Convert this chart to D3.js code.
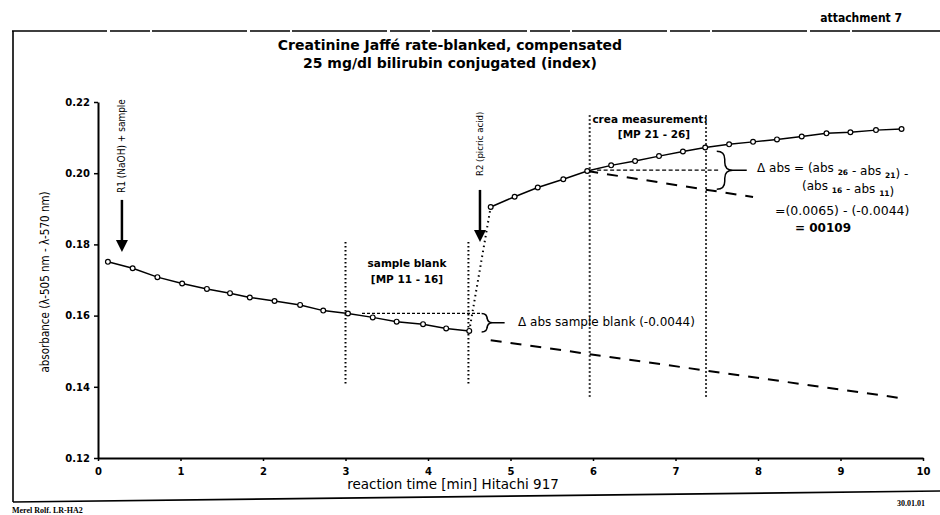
<!DOCTYPE html>
<html>
<head>
<meta charset="utf-8">
<script src="https://cdn.jsdelivr.net/npm/d3@7"></script>
<style>
  body { margin: 0; background: #fff; }
  svg { display: block; }
  text { font-family: "DejaVu Sans", sans-serif; fill: #000; }
</style>
</head>
<body>
<svg id="chart"></svg>
<script>
// measuring points MP1..MP16 (R1 + sample, before R2)
const time1 = [0.12, 0.42, 0.72, 1.02, 1.32, 1.60, 1.84, 2.14, 2.45, 2.73, 3.03, 3.33, 3.62, 3.94, 4.22, 4.50];
const abs1  = [0.1751, 0.1733, 0.1708, 0.1690, 0.1675, 0.1663, 0.1651, 0.1641, 0.1630, 0.1614, 0.1606, 0.1595, 0.1583, 0.1576, 0.1564, 0.1557];
// measuring points MP17..MP34 (after R2)
const time2 = [4.76, 5.05, 5.33, 5.64, 5.93, 6.22, 6.51, 6.80, 7.09, 7.36, 7.65, 7.94, 8.23, 8.53, 8.83, 9.12, 9.43, 9.74];
const abs2  = [0.1905, 0.1934, 0.1960, 0.1983, 0.2006, 0.2022, 0.2034, 0.2048, 0.2061, 0.2072, 0.2081, 0.2088, 0.2095, 0.2103, 0.2112, 0.2115, 0.2121, 0.2124];
// extrapolated blank lines
const blankExtTime = [4.76, 9.74], blankExtAbs = [0.1531, 0.1368];
const creaExtTime  = [5.93, 7.94], creaExtAbs  = [0.2006, 0.1933];
// measurement windows (vertical dotted lines)
const blankWinTime = [3.0, 4.49], blankWinAbs = [0.1807, 0.1408];
const creaWinTime  = [5.96, 7.37], creaWinAbs  = [0.2163, 0.1368];
const xTicks = [0, 1, 2, 3, 4, 5, 6, 7, 8, 9, 10];
const yTicks = [0.12, 0.14, 0.16, 0.18, 0.20, 0.22];

let width = 940, height = 515,
    x = d3.scaleLinear().domain([0, 10]).range([98, 923]),
    y = d3.scaleLinear().domain([0.12, 0.22]).range([458, 102]),
    svg = d3.select("#chart").attr("width", width).attr("height", height);

let pts1 = time1.map((t, i) => [t, abs1[i]]),
    pts2 = time2.map((t, i) => [t, abs2[i]]),
    line = d3.line().x(d => x(d[0])).y(d => y(d[1]));

// frame
svg.append("line").attr("x1", 12).attr("y1", 31).attr("x2", 940).attr("y2", 31)
   .attr("stroke", "#000").attr("stroke-width", 1.6).attr("stroke-dasharray", "95,3,40,2");
svg.append("line").attr("x1", 13).attr("y1", 31).attr("x2", 13).attr("y2", 502)
   .attr("stroke", "#000").attr("stroke-width", 1.6);
svg.append("line").attr("x1", 13).attr("y1", 502).attr("x2", 940).attr("y2", 491)
   .attr("stroke", "#000").attr("stroke-width", 1.6);

svg.append("text").attr("x", 902).attr("y", 22).attr("text-anchor", "end")
   .attr("font-size", "12px").attr("font-weight", "bold")
   .style("font-family", "DejaVu Sans Condensed").text("attachment 7");

// title
svg.append("text").attr("x", 450).attr("y", 50).attr("text-anchor", "middle")
   .attr("font-size", "14px").attr("font-weight", "bold").text("Creatinine Jaffé rate-blanked, compensated");
svg.append("text").attr("x", 450).attr("y", 68).attr("text-anchor", "middle")
   .attr("font-size", "14px").attr("font-weight", "bold").text("25 mg/dl bilirubin conjugated (index)");

// axes
let xAxis = d3.axisBottom(x).tickValues(xTicks).tickSize(3).tickSizeOuter(0).tickPadding(7),
    yAxis = d3.axisLeft(y).tickValues(yTicks).tickSize(4).tickSizeOuter(0).tickPadding(4).tickFormat(d3.format(".2f"));

let gx = svg.append("g").attr("transform", `translate(0,${y(0.12)})`).call(xAxis);
let gy = svg.append("g").attr("transform", `translate(${x(0)},0)`).call(yAxis);
[gx, gy].forEach(g => {
  g.select(".domain").attr("stroke-width", 2);
  g.selectAll(".tick line").attr("stroke-width", 1.5);
  g.selectAll(".tick text").attr("font-size", "10px").attr("font-weight", "bold")
   .style("font-family", "DejaVu Sans");
});

svg.append("text").attr("x", 453).attr("y", 489).attr("text-anchor", "middle")
   .attr("font-size", "13.5px").text("reaction time  [min] Hitachi 917");
svg.append("text").attr("transform", "translate(49,282) rotate(-90)").attr("text-anchor", "middle")
   .attr("font-size", "11.5px").style("font-family", "DejaVu Sans Condensed")
   .text("absorbance (λ-505 nm - λ-570 nm)");

// vertical dotted window lines
[[blankWinTime, blankWinAbs], [creaWinTime, creaWinAbs]].forEach(([ts, ab]) => {
  ts.forEach(t => {
    svg.append("line").attr("x1", x(t)).attr("x2", x(t)).attr("y1", y(ab[0])).attr("y2", y(ab[1]))
       .attr("stroke", "#000").attr("stroke-width", 2).attr("stroke-dasharray", "1.5,2.5");
  });
});

// dotted connection MP16 -> MP17
svg.append("path").attr("d", line([pts1[pts1.length - 1], pts2[0]]))
   .attr("fill", "none").attr("stroke", "#000").attr("stroke-width", 2).attr("stroke-dasharray", "1.5,3.5");

// extrapolated blank lines (long dash)
svg.append("path").attr("d", line(blankExtTime.map((t, i) => [t, blankExtAbs[i]])))
   .attr("fill", "none").attr("stroke", "#000").attr("stroke-width", 2).attr("stroke-dasharray", "11,9");
svg.append("path").attr("d", line(creaExtTime.map((t, i) => [t, creaExtAbs[i]])))
   .attr("fill", "none").attr("stroke", "#000").attr("stroke-width", 2).attr("stroke-dasharray", "11,9");

// horizontal reference lines (fine dash)
svg.append("line").attr("x1", x(3.2)).attr("x2", x(4.65)).attr("y1", y(abs1[10])).attr("y2", y(abs1[10]))
   .attr("stroke", "#000").attr("stroke-width", 1.3).attr("stroke-dasharray", "3,2");
svg.append("line").attr("x1", x(6.05)).attr("x2", x(7.52)).attr("y1", y(abs2[4]) - 1).attr("y2", y(abs2[4]) - 1)
   .attr("stroke", "#000").attr("stroke-width", 1.3).attr("stroke-dasharray", "4,2.5");

// measurement curves
[pts1, pts2].forEach(pts => {
  svg.append("path").attr("d", line(pts)).attr("fill", "none").attr("stroke", "#000").attr("stroke-width", 1.5);
  svg.append("g").selectAll("circle").data(pts).enter().append("circle")
     .attr("cx", d => x(d[0])).attr("cy", d => y(d[1])).attr("r", 2.4)
     .attr("fill", "#fff").attr("stroke", "#000").attr("stroke-width", 1.2);
});

// braces
function brace(x0, y0, y1, w, tail) {
  let m = (y0 + y1) / 2, r = w / 2, p = d3.path();
  p.moveTo(x0, y0);
  p.quadraticCurveTo(x0 + r, y0, x0 + r, y0 + r);
  p.lineTo(x0 + r, m - r);
  p.quadraticCurveTo(x0 + r, m, x0 + w, m);
  p.quadraticCurveTo(x0 + r, m, x0 + r, m + r);
  p.lineTo(x0 + r, y1 - r);
  p.quadraticCurveTo(x0 + r, y1, x0, y1);
  p.moveTo(x0 + w, m);
  p.lineTo(x0 + w + tail, m);
  svg.append("path").attr("d", p.toString()).attr("fill", "none").attr("stroke", "#000").attr("stroke-width", 1.5);
}
brace(x(4.65), y(abs1[10]), y(abs1[15]) + 1, 11, 12);
brace(x(7.5), y(0.2062), y(0.1955), 16, 14);

// arrows
function arrow(t, a0, a1) {
  let xx = x(t), yy0 = y(a0), yy1 = y(a1);
  svg.append("line").attr("x1", xx).attr("x2", xx).attr("y1", yy0).attr("y2", yy1 - 10)
     .attr("stroke", "#000").attr("stroke-width", 2.5);
  svg.append("path").attr("d", `M${xx - 6},${yy1 - 12}L${xx + 6},${yy1 - 12}L${xx},${yy1}Z`).attr("fill", "#000");
}
arrow(0.29, 0.1925, 0.1779);
arrow(4.63, 0.1953, 0.1807);

svg.append("text").attr("transform", `translate(${x(0.29) + 3.5},193) rotate(-90)`)
   .attr("font-size", "10px").style("font-family", "DejaVu Sans Condensed").text("R1 (NaOH) + sample");
svg.append("text").attr("transform", `translate(${x(4.63) + 3.5},176) rotate(-90)`)
   .attr("font-size", "9.5px").style("font-family", "DejaVu Sans Condensed").text("R2 (picric acid)");

// annotations
function label(px, py, str, opts = {}) {
  return svg.append("text").attr("x", px).attr("y", py)
    .attr("text-anchor", opts.anchor || "start")
    .attr("font-size", opts.size || "11px")
    .attr("font-weight", opts.bold ? "bold" : "normal")
    .text(str);
}
label(407, 267, "sample blank", { anchor: "middle", bold: true, size: "10.5px" });
label(407, 283, "[MP 11 - 16]", { anchor: "middle", bold: true, size: "10.5px" });
label(650, 123, "crea measurement:", { anchor: "middle", bold: true, size: "10.5px" });
label(654, 138, "[MP 21 - 26]", { anchor: "middle", bold: true, size: "10.5px" });
label(518, 326, "Δ abs sample blank (-0.0044)", { size: "12px" });

function formula(px, py, parts) {
  let t = svg.append("text").attr("x", px).attr("y", py).attr("font-size", "12px");
  parts.forEach(p => {
    if (typeof p === "string") {
      t.append("tspan").text(p);
    } else {
      t.append("tspan").attr("font-size", "7.5px").attr("font-weight", "bold").attr("dy", 3).text(p.sub);
      t.append("tspan").attr("dy", -3).text("");
    }
  });
}
formula(757, 172, ["Δ abs = (abs ", { sub: "26" }, " - abs ", { sub: "21" }, ") -"]);
formula(802, 190, ["(abs ", { sub: "16" }, " - abs ", { sub: "11" }, ")"]);
label(775, 215, "=(0.0065) - (-0.0044)", { size: "12.5px" });
label(795, 232, "= 00109", { bold: true, size: "12px" });

// footer
svg.append("text").attr("x", 925).attr("y", 506).attr("text-anchor", "end")
   .attr("font-size", "8px").attr("font-weight", "bold").style("font-family", "Liberation Serif").text("30.01.01");
svg.append("text").attr("x", 12).attr("y", 513)
   .attr("font-size", "8px").attr("font-weight", "bold").style("font-family", "Liberation Serif").text("Merel Rolf. LR-HA2");
</script>
</body>
</html>
